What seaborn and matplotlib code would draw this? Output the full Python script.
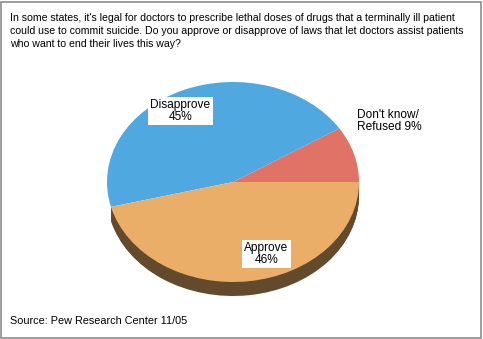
import matplotlib
matplotlib.use("Agg")
import matplotlib.pyplot as plt
import seaborn as sns

# Survey responses (percent), drawn counter-clockwise from 3 o'clock
categories = ["Don't know/\nRefused", "Disapprove", "Approve"]
values = [9, 45, 46]
face_colors = ["#E07266", "#4FA8E0", "#EBAE68"]
# only the front (Approve) part of the disc side is visible
side_colors = ["none", "none", "#634A2C"]

question = ("In some states, it's legal for doctors to prescribe lethal doses of drugs that a terminally ill patient\n"
            "could use to commit suicide. Do you approve or disapprove of laws that let doctors assist patients\n"
            "who want to end their lives this way?")
source = "Source: Pew Research Center 11/05"

sns.set_theme(style="white")
plt.rcParams["font.family"] = ["Liberation Sans", "DejaVu Sans"]

W, H = 483, 339
fig = plt.figure(figsize=(W / 100, H / 100), dpi=100)
ax = fig.add_axes([0, 0, 1, 1])

# pixel geometry of the tilted pie
cx, cy, rx, ry = 233, 182, 126, 100
depth = 0.14
palette = sns.color_palette(face_colors)

# side of the disc: stacked darker copies shifted downwards
n_layers = 16
for i in range(n_layers, 0, -1):
    off = -depth * i / n_layers
    ax.pie(values, colors=side_colors, startangle=0, counterclock=True,
           center=(0, off), radius=1, wedgeprops=dict(linewidth=0))

# top face
ax.pie(values, colors=palette, startangle=0, counterclock=True,
       center=(0, 0), radius=1, wedgeprops=dict(linewidth=0))

ax.set_aspect("auto")
ax.set_xlim(-cx / rx, (W - cx) / rx)
ax.set_ylim(-(H - cy) / ry, cy / ry)
ax.axis("off")

box = dict(boxstyle="square,pad=0.2", facecolor="white", edgecolor="none")
label_pos = [((389 - cx) / rx, (cy - 121.5) / ry, False),
             ((180.5 - cx) / rx, (cy - 111) / ry, True),
             ((266.5 - cx) / rx, (cy - 254) / ry, True)]
for cat, val, (lx, ly, boxed) in zip(categories, values, label_pos):
    if "\n" in cat:
        txt = f"{cat} {val}%"
        align = "left"
    else:
        txt = f"{cat}\n{val}%"
        align = "center"
    ax.text(lx, ly, txt, ha="center", va="center", fontsize=8.6,
            color="black", linespacing=1.0, multialignment=align,
            bbox=box if boxed else None)

fig.text(10 / W, 1 - 13 / H, question, ha="left", va="top", fontsize=7.6,
         linespacing=1.35, color="black")
fig.text(10 / W, 1 - 321 / H, source, ha="left", va="center", fontsize=7.8,
         color="black")

# outer frame
frame = plt.Rectangle((1 / W, 1 / H), (W - 3) / W, (H - 3) / H,
                      transform=fig.transFigure, fill=False,
                      edgecolor="#8C8C8C", linewidth=1.2)
fig.patches.append(frame)

fig.savefig("out.png", dpi=100, facecolor="white")
